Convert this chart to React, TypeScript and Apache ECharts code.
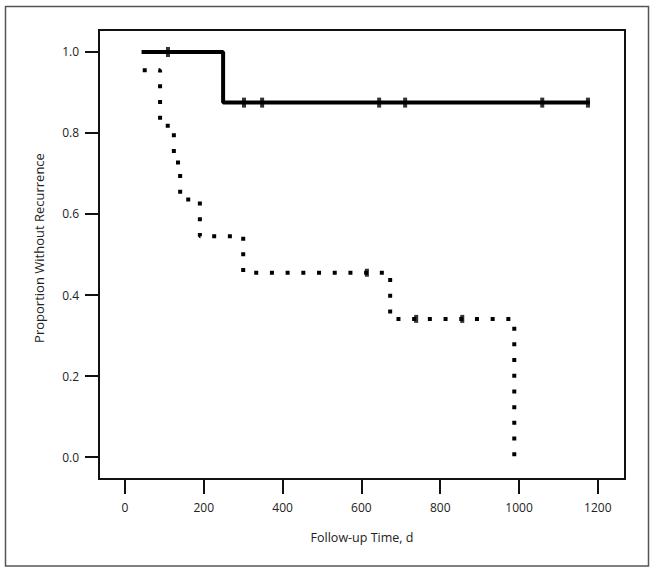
import React, { useEffect, useRef } from "react";
import * as echarts from "echarts";

// Kaplan-Meier curve of group A (solid)
const solidTimes = [42, 249, 1180];
const solidSurv = [1.0, 0.875, 0.875];
const solidCensor = [109, 302, 348, 645, 711, 1059, 1175];

// Kaplan-Meier curve of group B (dotted)
const dottedTimes = [45, 89, 124, 140, 190, 300, 673, 988];
const dottedSurv = [0.955, 0.818, 0.727, 0.636, 0.545, 0.455, 0.341, 0.0];
const dottedCensor = [614, 739, 856];

const xTicks = [0, 200, 400, 600, 800, 1000, 1200];
const yTicks = [0, 0.2, 0.4, 0.6, 0.8, 1.0];

const FONT = "'Open Sans', 'DejaVu Sans', sans-serif";

function stepValue(times: number[], surv: number[], t: number): number {
  let v = surv[0];
  for (let i = 0; i < times.length; i++) {
    if (times[i] <= t) v = surv[i];
  }
  return v;
}

export default function App() {
  const ref = useRef<HTMLDivElement>(null);
  useEffect(() => {
    if (!ref.current) return;
    const chart = echarts.init(ref.current, undefined, { renderer: "svg" });
    const solidData = solidTimes.map((t, i) => [t, solidSurv[i]]);
    const dottedData = dottedTimes.map((t, i) => [t, dottedSurv[i]]);
    const solidCensorData = solidCensor.map((t) => [t, stepValue(solidTimes, solidSurv, t)]);
    const dottedCensorData = dottedCensor.map((t) => [t, stepValue(dottedTimes, dottedSurv, t)]);
    chart.setOption({
      animation: false,
      backgroundColor: "#ffffff",
      grid: {
        left: 99,
        top: 30,
        width: 526,
        height: 449,
        show: true,
        borderColor: "#111",
        borderWidth: 2,
        backgroundColor: "transparent",
      },
      xAxis: {
        type: "value",
        min: -66,
        max: 1269,
        splitLine: { show: false },
        axisLine: { show: true, onZero: false, lineStyle: { color: "#111", width: 2 } },
        axisTick: {
          show: true,
          inside: false,
          length: 15,
          customValues: xTicks,
          lineStyle: { color: "#111", width: 2 },
        },
        axisLabel: {
          customValues: xTicks,
          margin: 22,
          color: "#222",
          fontSize: 12,
          fontFamily: FONT,
          formatter: (v: number) => String(v),
        },
      },
      yAxis: {
        type: "value",
        min: -0.0543,
        max: 1.0543,
        splitLine: { show: false },
        axisLine: { show: true, onZero: false, lineStyle: { color: "#111", width: 2 } },
        axisTick: {
          show: true,
          inside: false,
          length: 14,
          customValues: yTicks,
          lineStyle: { color: "#111", width: 2 },
        },
        axisLabel: {
          customValues: yTicks,
          margin: 20,
          color: "#222",
          fontSize: 12,
          fontFamily: FONT,
          formatter: (v: number) => v.toFixed(1),
        },
      },
      graphic: [
        {
          type: "rect",
          shape: { x: 5.5, y: 6.5, width: 643, height: 559.5 },
          style: { fill: "none", stroke: "#555", lineWidth: 1.5 },
          silent: true,
        },
        {
          type: "text",
          x: 39,
          y: 248,
          rotation: Math.PI / 2,
          style: {
            text: "Proportion Without Recurrence",
            fill: "#222",
            font: `13px ${FONT}`,
            align: "center",
            verticalAlign: "middle",
          },
        },
        {
          type: "text",
          x: 362,
          y: 537,
          style: {
            text: "Follow-up Time, d",
            fill: "#222",
            font: `12.5px ${FONT}`,
            align: "center",
            verticalAlign: "middle",
          },
        },
      ],
      series: [
        {
          type: "line",
          step: "end",
          data: dottedData,
          showSymbol: false,
          symbol: "none",
          lineStyle: { color: "#000", width: 4, type: [4, 11.7], cap: "butt" },
        },
        {
          type: "line",
          step: "end",
          data: solidData,
          showSymbol: false,
          symbol: "none",
          lineStyle: { color: "#000", width: 4, cap: "butt" },
        },
        {
          type: "scatter",
          data: solidCensorData,
          symbol: "rect",
          symbolSize: [4, 10],
          itemStyle: { color: "#000" },
        },
        {
          type: "scatter",
          data: dottedCensorData,
          symbol: "rect",
          symbolSize: [4, 8],
          itemStyle: { color: "#000" },
        },
      ],
    });
    return () => chart.dispose();
  }, []);
  return (
    <div
      ref={ref}
      style={{ position: "absolute", left: 0, top: 0, width: 654, height: 573 }}
    />
  );
}
